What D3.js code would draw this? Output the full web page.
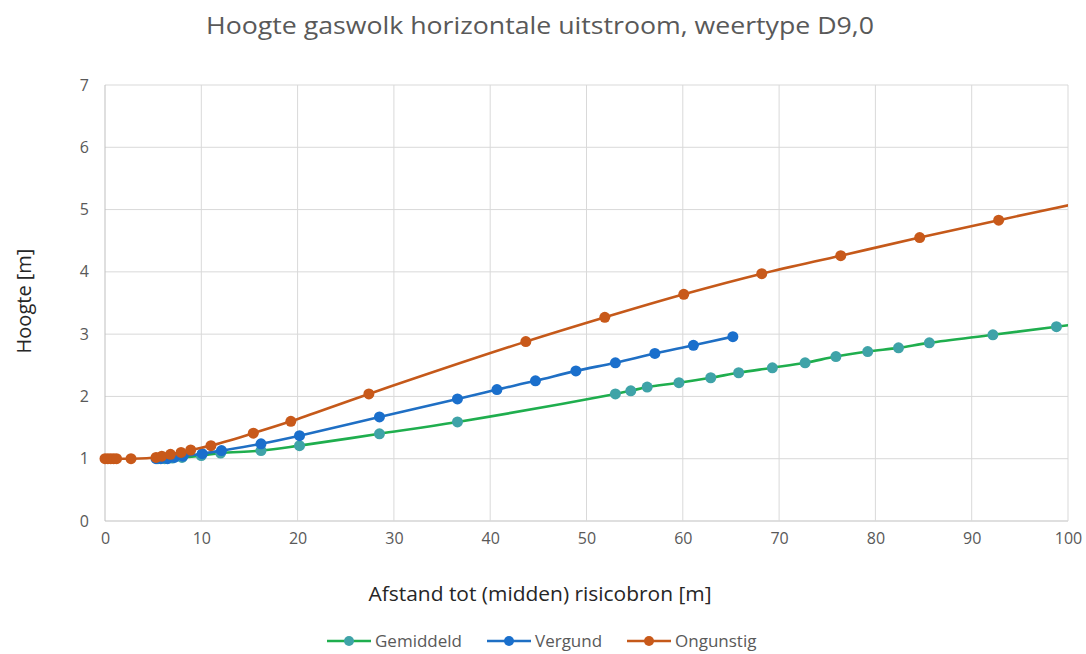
<!DOCTYPE html>
<html>
<head>
<meta charset="utf-8">
<script src="https://cdn.jsdelivr.net/npm/d3@7/dist/d3.min.js"></script>
<style>
	body { margin: 0; background: #fff; }
	text { font-family: "Open Sans", sans-serif; fill: #595959; }
</style>
</head>
<body>
<div id="chart"></div>
<script>
// afstand [m] / hoogte [m] per reeks
const gemiddeldX = [5.5, 6.2, 7, 8, 10, 12, 16.2, 20.2, 28.5, 36.6, 53, 54.6, 56.3, 59.6, 62.9, 65.8, 69.3, 72.7, 75.9, 79.2, 82.4, 85.6, 92.2, 98.8, 105.4];
const gemiddeldY = [1.0, 1.0, 1.01, 1.02, 1.05, 1.09, 1.13, 1.21, 1.40, 1.59, 2.04, 2.09, 2.15, 2.22, 2.30, 2.38, 2.46, 2.54, 2.64, 2.72, 2.78, 2.86, 2.99, 3.12, 3.25];

const vergundX = [5.3, 5.8, 6.5, 7.2, 8.1, 10.1, 12.1, 16.2, 20.2, 28.5, 36.6, 40.7, 44.7, 48.9, 53, 57.1, 61.1, 65.2];
const vergundY = [1.0, 1.0, 1.0, 1.02, 1.04, 1.08, 1.13, 1.24, 1.37, 1.67, 1.96, 2.11, 2.25, 2.41, 2.54, 2.69, 2.82, 2.96];

const ongunstigX = [0, 0.3, 0.6, 0.9, 1.2, 2.7, 5.3, 5.9, 6.8, 7.9, 8.9, 11, 15.4, 19.3, 27.4, 43.7, 51.9, 60.1, 68.2, 76.4, 84.6, 92.8, 101];
const ongunstigY = [1, 1, 1, 1, 1, 1, 1.02, 1.04, 1.07, 1.1, 1.14, 1.21, 1.41, 1.6, 2.04, 2.88, 3.27, 3.64, 3.97, 4.26, 4.55, 4.83, 5.1];

const xTicks = [0, 10, 20, 30, 40, 50, 60, 70, 80, 90, 100];
const yTicks = [0, 1, 2, 3, 4, 5, 6, 7];

const series = [
	{ name: "Gemiddeld", xs: gemiddeldX, ys: gemiddeldY, line: "#1fae4e", marker: "#3fa3a8" },
	{ name: "Vergund", xs: vergundX, ys: vergundY, line: "#1f6fc4", marker: "#1a6fcc" },
	{ name: "Ongunstig", xs: ongunstigX, ys: ongunstigY, line: "#c5591a", marker: "#c8591a" }
];

const width = 1086;
const height = 654;
const margin = { left: 105, right: 18, top: 85, bottom: 133 };

const svg = d3.select("#chart")
	.append("svg")
	.attr("width", width)
	.attr("height", height);

const xScale = d3.scaleLinear().domain([0, 100]).range([margin.left, width - margin.right]);
const yScale = d3.scaleLinear().domain([0, 7]).range([height - margin.bottom, margin.top]);

// titel
svg.append("text")
	.attr("x", 540)
	.attr("y", 34)
	.attr("text-anchor", "middle")
	.style("font-size", "24px")
	.attr("textLength", 668)
	.attr("lengthAdjust", "spacingAndGlyphs")
	.text("Hoogte gaswolk horizontale uitstroom, weertype D9,0");

// rasterlijnen
svg.append("g")
	.selectAll("line")
	.data(yTicks)
	.enter()
	.append("line")
	.attr("x1", xScale(0))
	.attr("x2", xScale(100))
	.attr("y1", (d) => yScale(d))
	.attr("y2", (d) => yScale(d))
	.attr("stroke", (d) => d === 0 ? "#bfbfbf" : "#d9d9d9")
	.attr("stroke-width", 1);

svg.append("g")
	.selectAll("line")
	.data(xTicks)
	.enter()
	.append("line")
	.attr("x1", (d) => xScale(d))
	.attr("x2", (d) => xScale(d))
	.attr("y1", yScale(0))
	.attr("y2", yScale(7))
	.attr("stroke", (d) => d === 0 ? "#bfbfbf" : "#d9d9d9")
	.attr("stroke-width", 1);

// assen
const xAxis = d3.axisBottom(xScale).tickValues(xTicks).tickSize(0).tickPadding(12);
const yAxis = d3.axisLeft(yScale).tickValues(yTicks).tickFormat(d3.format("d")).tickSize(0).tickPadding(16);

svg.append("g")
	.attr("transform", `translate(0, ${yScale(0)})`)
	.call(xAxis)
	.call((g) => g.select(".domain").remove())
	.selectAll("text")
	.style("font-size", "16px")
	.style("fill", "#595959");

svg.append("g")
	.attr("transform", `translate(${xScale(0)}, 0)`)
	.call(yAxis)
	.call((g) => g.select(".domain").remove())
	.selectAll("text")
	.style("font-size", "16px")
	.style("fill", "#595959");

// astitels
svg.append("text")
	.attr("x", 540)
	.attr("y", 601)
	.attr("text-anchor", "middle")
	.style("font-size", "20px")
	.attr("textLength", 343)
	.attr("lengthAdjust", "spacingAndGlyphs")
	.style("fill", "#262626")
	.text("Afstand tot (midden) risicobron [m]");

svg.append("text")
	.attr("transform", "translate(31, 301) rotate(-90)")
	.attr("text-anchor", "middle")
	.style("font-size", "20px")
	.style("fill", "#262626")
	.text("Hoogte [m]");

// lijnen binnen plotgebied
svg.append("clipPath")
	.attr("id", "plotClip")
	.append("rect")
	.attr("x", xScale(0) - 8)
	.attr("y", yScale(7))
	.attr("width", xScale(100) - xScale(0) + 8)
	.attr("height", yScale(0) - yScale(7) + 8);

const plot = svg.append("g").attr("clip-path", "url(#plotClip)");

const line = d3.line()
	.x((d) => xScale(d[0]))
	.y((d) => yScale(d[1]))
	.curve(d3.curveCatmullRom.alpha(0.5));

series.forEach((s) => {
	const pts = s.xs.map((x, i) => [x, s.ys[i]]);
	plot.append("path")
		.datum(pts)
		.attr("d", line)
		.attr("fill", "none")
		.attr("stroke", s.line)
		.attr("stroke-width", 2.6);

	plot.append("g")
		.selectAll("circle")
		.data(pts.filter((d) => d[0] <= 100))
		.enter()
		.append("circle")
		.attr("cx", (d) => xScale(d[0]))
		.attr("cy", (d) => yScale(d[1]))
		.attr("r", 5.5)
		.attr("fill", s.marker);
});

// legenda
const legendX = [327, 487, 627];
const legend = svg.append("g")
	.selectAll("g")
	.data(series)
	.enter()
	.append("g")
	.attr("transform", (d, i) => `translate(${legendX[i]}, 641)`);

legend.append("line")
	.attr("x1", 0)
	.attr("x2", 44)
	.attr("stroke", (d) => d.line)
	.attr("stroke-width", 2.6);

legend.append("circle")
	.attr("cx", 22)
	.attr("r", 5)
	.attr("fill", (d) => d.marker);

legend.append("text")
	.attr("x", 48)
	.attr("y", 6)
	.style("font-size", "17px")
	.text((d) => d.name);
</script>
</body>
</html>
